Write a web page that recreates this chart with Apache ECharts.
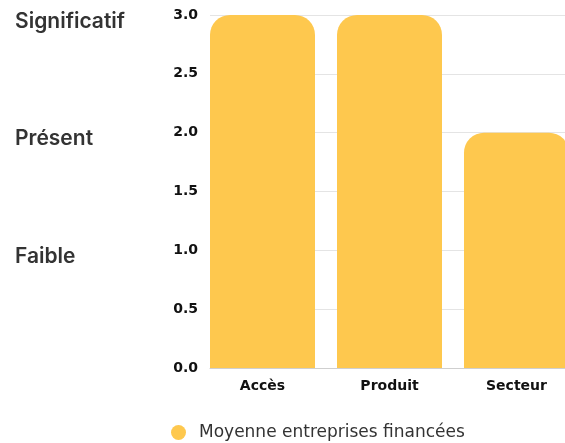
<!DOCTYPE html>
<html><head><meta charset="utf-8">
<script src="https://cdn.jsdelivr.net/npm/echarts@6/dist/echarts.min.js"></script>
<style>html,body{margin:0;padding:0;background:#fff}#c{width:565px;height:443px}</style>
</head><body><div id="c"></div>
<script>
const categories = ['Accès', 'Produit', 'Secteur'];
const values = [3, 3, 2];
const seriesName = 'Moyenne entreprises financées';
const levelLabels = {3: 'Significatif', 2: 'Présent', 1: 'Faible'};

const chart = echarts.init(document.getElementById('c'), null, {renderer: 'canvas'});
chart.setOption({
  animation: false,
  grid: {left: 210, right: 0, top: 15, bottom: 75, containLabel: false},
  legend: {
    data: [{name: seriesName, icon: 'circle'}],
    left: 171, top: 424, itemWidth: 15, itemHeight: 15, itemGap: 10, padding: 0,
    textStyle: {fontFamily: 'DejaVu Sans', fontSize: 17, color: '#333', padding: [0, 0, 0, 8]}
  },
  xAxis: {
    type: 'value', min: -0.4134, max: 2.3819,
    splitLine: {show: false}, axisTick: {show: false},
    axisLine: {show: true, lineStyle: {color: '#cfcfcf', width: 1}},
    axisLabel: {
      customValues: [0, 1, 2],
      formatter: v => categories[Math.round(v)],
      margin: 11, fontFamily: 'DejaVu Sans', fontWeight: 'bold', fontSize: 14, color: '#111'
    }
  },
  yAxis: [{
    type: 'value', min: 0, max: 3, interval: 0.5,
    axisLine: {show: false}, axisTick: {show: false},
    splitLine: {lineStyle: {color: '#e4e4e4', width: 1}},
    axisLabel: {
      formatter: v => v.toFixed(1), margin: 12,
      fontFamily: 'DejaVu Sans', fontWeight: 'bold', fontSize: 14, color: '#111'
    }
  }, {
    type: 'value', min: 0, max: 3, interval: 0.5, position: 'left',
    axisLine: {show: false}, axisTick: {show: false}, splitLine: {show: false},
    axisLabel: {
      formatter: v => levelLabels[v] || '', margin: 195, align: 'left',
      verticalAlign: 'top', lineHeight: 13,
      fontFamily: 'Inter', fontWeight: 600, fontSize: 21, color: '#333'
    }
  }],
  series: [{
    name: seriesName, type: 'bar', barWidth: 105,
    data: categories.map((c, i) => [i, values[i]]),
    itemStyle: {color: '#FEC84E', borderRadius: [20, 20, 0, 0]}
  }]
});
</script></body></html>
